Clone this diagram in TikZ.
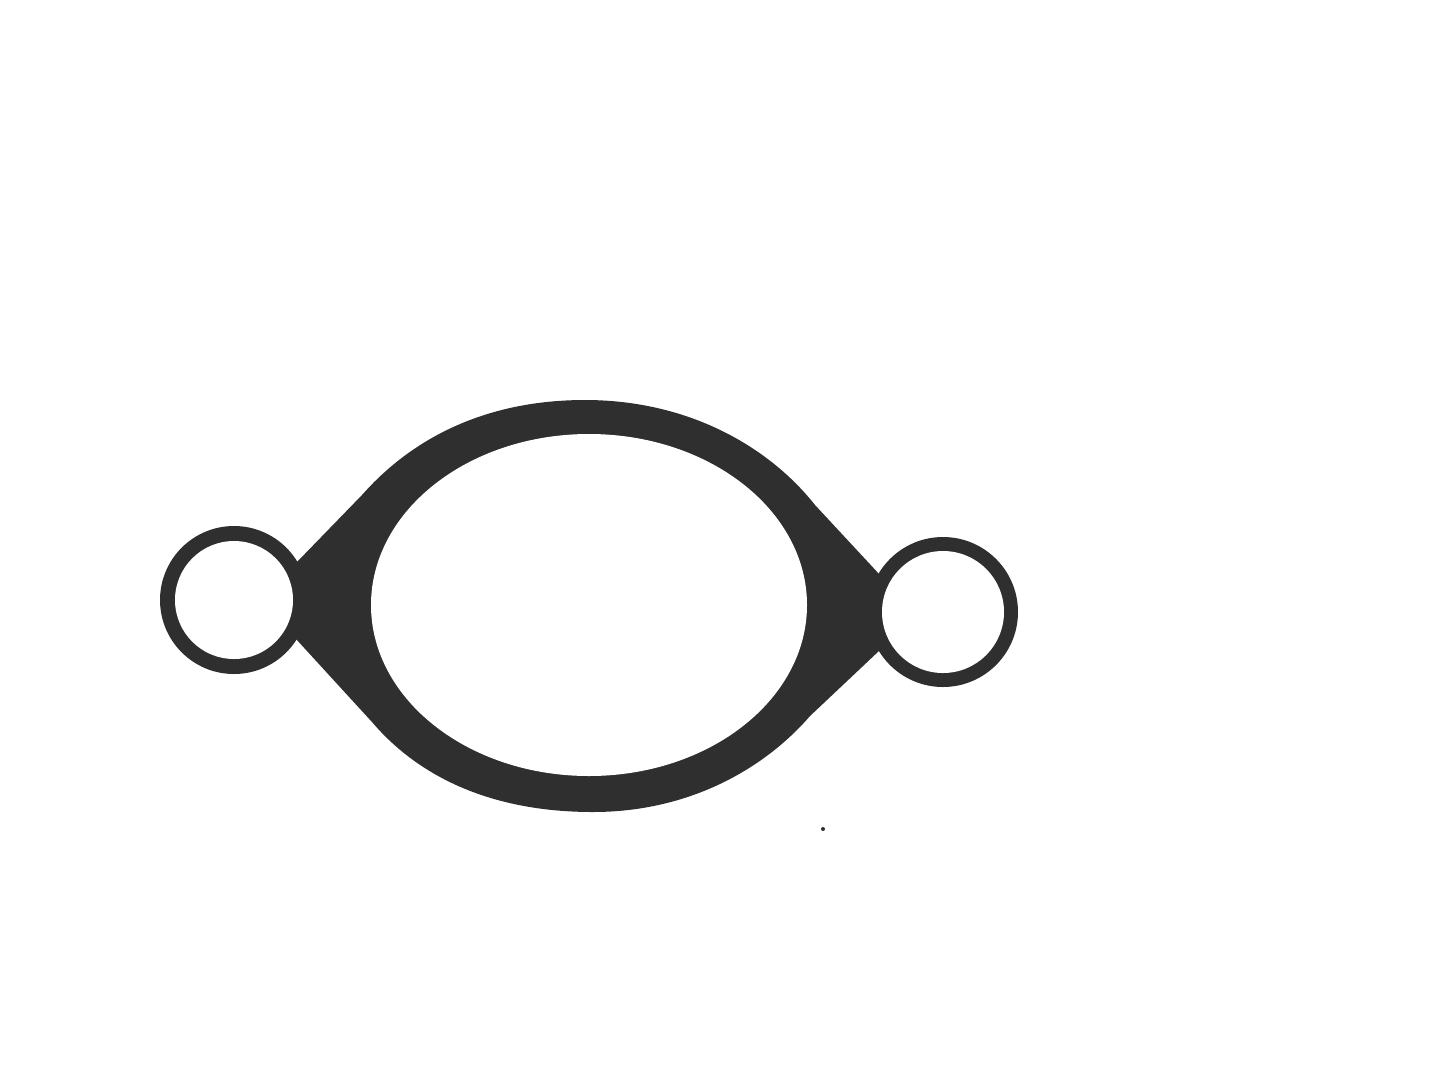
\documentclass[tikz,border=0pt]{standalone}
\usetikzlibrary{calc}
\definecolor{gasketgray}{RGB}{47,47,47}

\begin{document}
\begin{tikzpicture}[x=0.01cm,y=-0.01cm]
    \useasboundingbox (0,0) rectangle (1445,1084); % Fixes the page...

    \coordinate (lhole) at (234,600);
    \coordinate (rhole) at (943,612);
    \coordinate (bore) at (589,605);

    % body of the gasket
    \fill[gasketgray] (296,563) -- (362,495)
        .. controls (415,435) and (490,400) .. (585,400)
        .. controls (690,400) and (770,448) .. (815,505)
        -- (880,575) -- (880,650) -- (810,716)
        .. controls (765,768) and (690,812) .. (593,812)
        .. controls (490,812) and (418,776) .. (372,722)
        -- (296,639) -- cycle;

    % bolt rings
    \fill[gasketgray] (lhole) circle (74);
    \fill[gasketgray] (rhole) circle (75);
    \fill[white] (lhole) circle (59);
    \fill[white] (rhole) circle (61);

    % bore
    \fill[white] (bore) ellipse (218 and 171);

    \fill[gasketgray] (823,829) circle (2);
\end{tikzpicture}
\end{document}
